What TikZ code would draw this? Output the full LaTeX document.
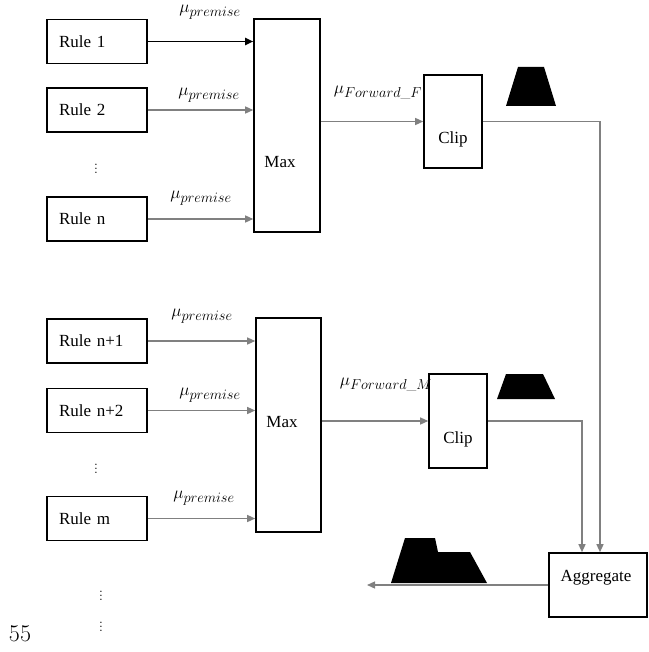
\documentclass[tikz,border=0pt]{standalone}
\usepackage{amsmath}
\usepackage{fontspec}
\newfontfamily\tnr{Liberation Serif}
\usetikzlibrary{arrows.meta}

\begin{document}
\begin{tikzpicture}[x=1pt,y=-1pt,
  txt/.style={font=\tnr\fontsize{17}{20}\selectfont},
  rulebox/.style={txt,draw,line width=1.6pt,minimum width=100pt,minimum height=44pt,
    text width=76pt,inner xsep=12pt,align=left},
  opbox/.style={draw,line width=1.6pt,inner sep=0pt},
  mu/.style={font=\fontsize{19}{22}\selectfont,inner sep=1pt},
  dots/.style={font=\fontsize{14}{16}\selectfont,inner sep=0pt},
  flow/.style={draw=gray,line width=1.3pt,-{Triangle[length=8pt,width=7pt]}}]

\useasboundingbox (0,0) rectangle (648,652);

\node[rulebox] (r1) at (97,41.5) {Rule 1};
\node[rulebox] (r2) at (97,110) {Rule 2};
\node[dots] (d1) at (96,166) {$\vdots$};
\node[rulebox] (rn) at (97,219) {Rule n};

\node[rulebox] (r3) at (97,341) {Rule n+1};
\node[rulebox] (r4) at (97,410.5) {Rule n+2};
\node[dots] (d2) at (96,466) {$\vdots$};
\node[rulebox] (rm) at (97,518.5) {Rule m};

\node[dots] (d3) at (101,593) {$\vdots$};
\node[dots] (d4) at (101,624) {$\vdots$};

\node[opbox,minimum width=66pt,minimum height=213pt] (m1) at (287,125.5) {};
\node[txt] (m1t) at (280,162) {Max};
\node[opbox,minimum width=65pt,minimum height=214pt] (m2) at (288.5,425) {};
\node[txt] (m2t) at (282,422) {Max};

\node[opbox,minimum width=58pt,minimum height=93pt] (c1) at (453,121.5) {};
\node[txt] (c1t) at (453,139) {Clip};
\node[opbox,minimum width=58pt,minimum height=94pt] (c2) at (458,421) {};
\node[txt] (c2t) at (458,439) {Clip};

\node[opbox,minimum width=98pt,minimum height=64pt] (ag) at (598,585) {};
\node[txt] (agt) at (596,578) {Aggregate};

\node[mu] (l1) at (210,12) {$\mu_{premise}$};
\node[mu] (l2) at (209,95) {$\mu_{premise}$};
\node[mu] (l3) at (201,198) {$\mu_{premise}$};
\node[mu] (l4) at (202,316) {$\mu_{premise}$};
\node[mu] (l5) at (210,395) {$\mu_{premise}$};
\node[mu] (l6) at (204,498) {$\mu_{premise}$};
\node[mu] (lf) at (378,93) {$\mu_{Forward\text{\_}F}$};
\node[mu] (lm) at (386,385) {$\mu_{Forward\text{\_}M}$};

\node[font=\fontsize{24}{28}\selectfont] (pg) at (20,634) {55};

\draw[flow,draw=black,line width=1.8pt] (r1) -- (r1 -| m1.west);
\draw[flow] (r2) -- (r2 -| m1.west);
\draw[flow] (rn) -- (rn -| m1.west);
\draw[flow] (r3) -- (r3 -| m2.west);
\draw[flow] (r4) -- (r4 -| m2.west);
\draw[flow] (rm) -- (rm -| m2.west);

\draw[flow] (c1 -| m1.east) -- (c1);
\draw[flow] (c2 -| m2.east) -- (c2);

\draw[flow] (c1) -| ([xshift=2pt]ag.north);
\draw[flow] (c2) -| ([xshift=-16pt]ag.north);

\coordinate (out) at (367,585);
\draw[flow] (ag) -- (out);

\fill (506,106) -- (518,67) -- (544,67) -- (556,106) -- cycle;
\fill (497,399) -- (506,374) -- (543,374) -- (555,399) -- cycle;
\fill (391,583) -- (405,538) -- (435,538) -- (438,552) -- (470,552) -- (487,583) -- cycle;

\end{tikzpicture}
\end{document}
